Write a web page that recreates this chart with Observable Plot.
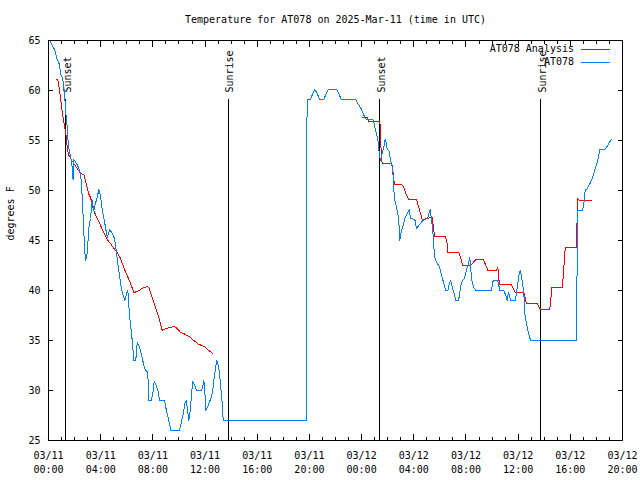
<!DOCTYPE html>
<html><head><meta charset="utf-8">
<script src="https://cdn.jsdelivr.net/npm/d3@7"></script>
<script src="https://cdn.jsdelivr.net/npm/@observablehq/plot@0.6"></script>
<style>
body{margin:0;background:#fff}
#wrap{position:relative;width:640px;height:480px}
.lg{position:absolute;font:10px "DejaVu Sans Mono",monospace;line-height:12px;white-space:pre;text-align:right}
</style></head><body><div id="wrap"></div>
<script>
// Hours after 2025-03-11 00:00 UTC, and temperatures (degrees F)
const title = "Temperature for AT078 on 2025-Mar-11 (time in UTC)";
const yLabel = "degrees F";
const seriesNames = ["AT078 Analysis", "AT078"];
const seriesColors = ["#ff0000", "#0080ff"];

const obsHours = [
0.08,0.46,0.67,0.84,0.92,1.10,1.23,1.33,1.43,1.53,
1.69,1.84,1.88,1.94,2.15,2.30,2.45,2.53,2.66,2.78,
2.86,2.97,3.09,3.22,3.35,3.47,3.60,3.73,3.86,3.99,
4.12,4.24,4.37,4.50,4.70,4.88,5.06,5.21,5.31,5.47,
5.57,5.73,5.85,5.98,6.08,6.16,6.23,6.34,6.44,6.54,
6.69,6.80,6.92,7.05,7.18,7.31,7.44,7.57,7.64,7.69,
7.87,8.00,8.10,8.23,8.38,8.53,8.89,8.99,9.10,9.22,
9.38,10.04,10.17,10.33,10.45,10.56,10.66,10.76,10.89,10.96,
11.06,11.19,11.35,11.75,11.91,12.01,12.06,12.17,12.32,12.47,
12.57,12.67,12.78,12.90,13.01,13.11,13.21,13.32,13.39,19.74,
19.78,19.88,20.08,20.26,20.41,20.60,20.77,21.10,21.29,21.44,
22.08,22.25,22.44,23.56,23.71,23.92,24.09,24.25,24.38,24.86,
24.94,25.01,25.17,25.30,25.35,25.45,25.58,25.70,25.81,25.91,
25.96,26.09,26.16,26.27,26.37,26.42,26.47,26.55,26.62,26.73,
26.83,26.88,26.93,27.01,27.14,27.24,27.34,27.50,27.65,27.75,
28.08,28.21,28.39,28.57,28.72,28.90,29.08,29.18,29.26,29.34,
29.41,29.49,29.54,29.61,29.74,29.92,30.05,30.18,30.30,30.46,
30.61,30.72,30.82,30.92,31.07,31.22,31.43,31.53,31.64,31.74,
31.89,31.99,32.10,32.20,32.30,32.35,32.45,32.60,32.76,33.94,
34.09,34.44,34.55,34.60,34.90,35.06,35.16,35.26,35.36,35.42,
35.78,35.88,35.98,36.08,36.16,36.24,36.34,36.44,36.51,36.64,
36.74,36.85,36.95,40.48,40.50,40.53,40.58,40.94,41.04,41.14,
41.30,41.42,41.55,41.68,41.80,41.93,42.06,42.18,42.26,42.62,
42.77,42.95,43.14];
const obsTemp = [
65,64.1,63.1,62.6,61.7,61.1,59.7,57.7,56.4,54.4,
53.4,52.2,51.1,53.1,52.7,52.3,51.7,50.7,47.3,43.8,
43,43.8,46.2,47.2,49,48,48.7,49.3,50.1,49.5,
48,47.3,46.3,45.3,46.1,45.7,45.2,43.8,42.7,41.3,
40.3,39.5,39,39.7,40,38.5,37.3,36,34.7,33,
33,34.8,34.5,34,33.3,32.5,32,31.9,31,29,
29,29.7,30.9,30.6,30,29,29,28.3,27.7,27,
26,26,26.7,27.7,28.7,29,28,27,28.3,29.7,
30.9,30.6,30,30,31,29.3,28,28.3,28.8,29.3,
29.8,31,32,33,32.5,31.7,30.2,28.7,27,27,
56.3,59.1,59.1,59.7,60.1,59.7,59.1,59.1,59.7,60.1,
60.1,59.7,59.1,59.1,58.7,58.3,57.8,57.3,57.1,57.1,
56.8,56.3,55.5,54.7,53.7,53,53.7,54.3,55.1,54.7,
54.1,54,53.5,52.7,52.3,51.3,50,49,48.7,48,
47.3,46.3,45,45.7,46.3,46.8,47.3,47.7,48.1,47.2,
47.1,46.2,46.5,46.8,47,47.1,47.3,47.8,48.1,47.3,
46.5,45.5,44.3,43.3,42.8,42.5,42,41.3,40.7,40,
40,40.7,41,40.5,39.8,39,39,39.8,40.7,41,
41.2,41.8,42.3,42.8,43.3,42.3,41,40.3,40,40,
41,41,40.3,40,40,39.5,39,39.8,39.3,39,
39,39.8,40.7,41.7,42,41.5,40.7,39.7,37.7,36.7,
36,35.5,35,35,38.2,45,48,48,48.7,50,
50.2,50.5,50.8,51.2,51.7,52.3,52.8,53.5,54.1,54.1,
54.3,54.7,55.1];

const anaHours = [
0.59,0.71,0.84,0.97,1.10,1.23,1.36,1.43,1.53,1.74,
1.99,2.25,2.45,2.71,2.89,3.07,3.22,3.47,3.73,3.99,
4.24,4.50,4.75,5.01,5.27,5.52,5.77,6.03,6.29,6.54,
6.80,7.18,7.57,7.69,7.95,8.20,8.46,8.72,8.97,9.35,
9.61,9.87,10.12,10.37,10.63,10.89,11.14,11.52,11.78,12.04,
12.29,12.60,18.00,
24.09,24.43,24.51,24.55,25.40,25.45,25.50,25.58,26.27,26.37,
26.42,26.52,27.08,27.24,27.39,27.62,28.21,28.39,28.52,28.65,
28.77,28.90,29.41,29.54,29.59,30.43,30.56,30.61,31.45,31.58,
31.76,32.35,32.56,32.76,33.32,33.50,33.68,34.34,34.44,34.50,
34.55,35.47,35.62,35.78,36.44,36.54,36.62,37.46,37.59,37.72,
38.41,38.48,38.58,39.40,39.45,39.56,39.61,40.48,40.50,40.53,
40.58,40.69,41.65];
const anaTemp = [
61.1,61.1,60.1,58.7,57.4,56.4,55.4,54.4,53.6,53.1,
52.6,52.1,51.7,51.6,50.7,49.7,49.3,48.0,47.2,46.5,
45.8,45.1,44.7,44.2,43.8,43.2,42.3,41.5,40.7,39.8,
39.9,40.2,40.4,40.3,39.3,38.3,37.3,36.0,36.2,36.3,
36.4,36.2,35.8,35.7,35.5,35.3,35.0,34.6,34.5,34.3,
34.0,33.7,null,
57.3,57.3,57.1,56.9,56.9,55.8,53.7,52.7,52.7,52.5,
51.7,50.6,50.6,50.3,49.7,49.1,49.1,48.3,47.7,47.1,
47.1,47.2,47.3,46.0,45.4,45.4,44.7,43.8,43.8,43.3,
42.5,42.5,42.8,43.1,43.1,42.6,42.0,42.0,42.3,41.8,
40.6,40.6,40.2,39.8,39.8,39.3,38.7,38.7,38.4,38.1,
38.1,38.7,40.3,40.3,41.3,43.3,44.3,44.3,45.5,48.2,
49.2,49.0,49.0];

const eventHours = [1.30, 13.76, 25.41, 37.75];
const eventLabels = ["Sunset", "Sunrise", "Sunset", "Sunrise"];
const eventTop = 59.1, eventLabelBase = 59.8;

const yTicks = [25, 30, 35, 40, 45, 50, 55, 60, 65];
const spanHours = 44;
const tickFormat = "%m/%d\n%H:%M";

// ---- build
const t0 = Date.UTC(2025, 2, 11);
const at = h => new Date(t0 + h * 36e5);
const tEnd = at(spanHours);
const obs = obsHours.map((h, i) => ({t: at(h), v: obsTemp[i]}));
const ana = anaHours.map((h, i) => ({t: at(h), v: anaTemp[i]}));
const events = eventHours.map((h, i) => ({t: at(h), label: eventLabels[i]}));
const majorTicks = d3.utcHour.every(4).range(new Date(t0), new Date(+tEnd + 1));
const minorTicks = d3.utcHour.range(new Date(t0), new Date(+tEnd + 1));
const fmt = d3.utcFormat(tickFormat);
const blank = () => "";
const crisp = "crispEdges";

const chart = Plot.plot({
  width: 640, height: 480,
  marginLeft: 48, marginRight: 18, marginTop: 40, marginBottom: 40,
  style: {fontFamily: '"DejaVu Sans Mono", monospace', fontSize: "10px", background: "white", color: "black", overflow: "visible"},
  x: {type: "utc", domain: [new Date(t0), tEnd], axis: null},
  y: {domain: [25, 65], axis: null},
  marks: [
    Plot.ruleX(events, {x: "t", y1: 25, y2: eventTop, stroke: "black", strokeWidth: 1, shapeRendering: crisp}),
    Plot.text(events, {x: "t", y: eventLabelBase, text: "label", rotate: -90, textAnchor: "start", dx: 2}),
    Plot.line(ana, {x: "t", y: "v", stroke: seriesColors[0], strokeWidth: 1, shapeRendering: crisp}),
    Plot.line(obs, {x: "t", y: "v", stroke: seriesColors[1], strokeWidth: 1, shapeRendering: crisp}),
    Plot.axisX({ticks: minorTicks, anchor: "bottom", tickSize: 3, dy: -3, tickFormat: blank, label: null, shapeRendering: crisp}),
    Plot.axisX({ticks: majorTicks, anchor: "bottom", tickSize: 6, dy: -6, tickFormat: blank, label: null, shapeRendering: crisp}),
    Plot.axisX({ticks: minorTicks, anchor: "top", tickSize: 3, dy: 3, tickFormat: blank, label: null, shapeRendering: crisp}),
    Plot.axisX({ticks: majorTicks, anchor: "top", tickSize: 6, dy: 6, tickFormat: blank, label: null, shapeRendering: crisp}),
    Plot.axisX({ticks: majorTicks, anchor: "bottom", tickSize: 0, tickPadding: 9, tickFormat: fmt, label: null, lineHeight: 1.4}),
    Plot.axisY({ticks: yTicks, anchor: "left", tickSize: 5, dx: 5, tickFormat: blank, label: null, shapeRendering: crisp}),
    Plot.axisY({ticks: yTicks, anchor: "right", tickSize: 5, dx: -5, tickFormat: blank, label: null, shapeRendering: crisp}),
    Plot.axisY({ticks: yTicks, anchor: "left", tickSize: 0, tickPadding: 8, label: null}),
    Plot.frame({stroke: "black", shapeRendering: crisp}),
    Plot.text([title], {frameAnchor: "top", lineAnchor: "middle", dy: -21}),
    Plot.text([yLabel], {frameAnchor: "left", dx: -38, rotate: -90})
  ]
});
const wrap = document.getElementById("wrap");
wrap.appendChild(chart);

// legend (top-right, inside frame)
const ns = "http://www.w3.org/2000/svg";
const lsvg = document.createElementNS(ns, "svg");
lsvg.setAttribute("width", 640); lsvg.setAttribute("height", 480);
lsvg.style.cssText = "position:absolute;left:0;top:0;pointer-events:none";
seriesNames.forEach((name, i) => {
  const d = document.createElement("div");
  d.className = "lg";
  d.textContent = name;
  d.style.right = "66px";
  d.style.top = (43 + 13 * i) + "px";
  wrap.appendChild(d);
  const ln = document.createElementNS(ns, "line");
  ln.setAttribute("x1", 581); ln.setAttribute("x2", 610);
  ln.setAttribute("y1", 49.5 + 13 * i); ln.setAttribute("y2", 49.5 + 13 * i);
  ln.setAttribute("stroke", seriesColors[i]); ln.setAttribute("stroke-width", 1);
  lsvg.appendChild(ln);
});
wrap.appendChild(lsvg);
</script></body></html>
